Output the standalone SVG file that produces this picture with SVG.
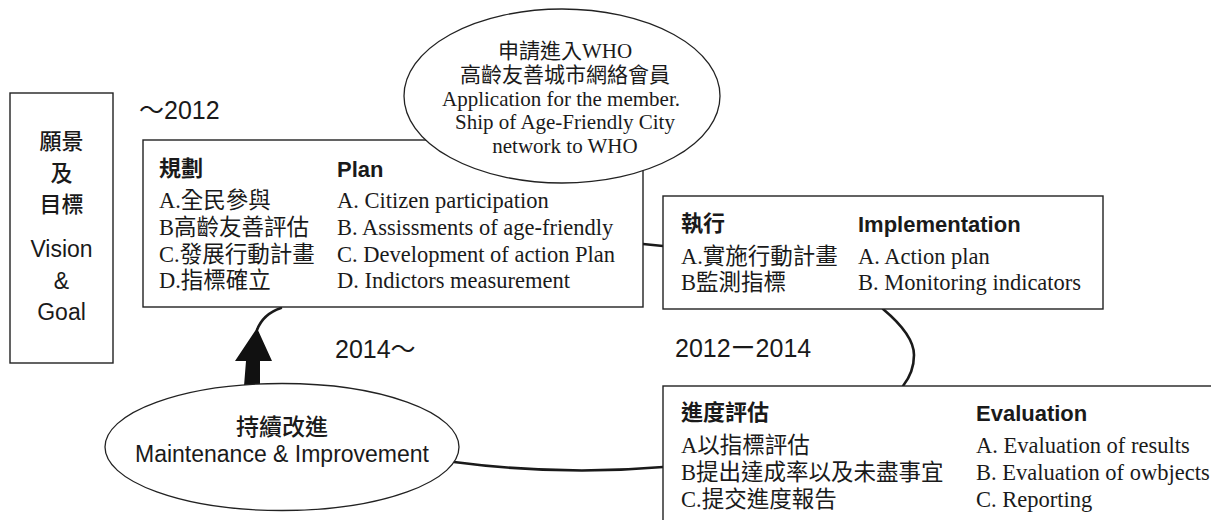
<svg xmlns="http://www.w3.org/2000/svg" width="1211" height="520" viewBox="0 0 1211 520">
<style>
.box{fill:#fff;stroke:#222;stroke-width:1.4}
.ell{fill:#fff;stroke:#222;stroke-width:1.3}
.con{fill:none;stroke:#1a1a1a;stroke-width:2.6;stroke-linecap:round}
.sans{font-family:"Liberation Sans","Noto Sans CJK TC",sans-serif;fill:#1a1a1a}
.cjk{font-family:"Noto Sans CJK TC","Liberation Sans",sans-serif;fill:#1a1a1a}
.ser{font-family:"Liberation Serif","Noto Sans CJK TC",serif;fill:#1a1a1a;font-size:22.5px}
.ov{font-size:21px}
.hd{font-weight:bold;font-size:22px}
.big{font-size:23px}
.lb{font-size:22px;font-weight:500}
.yr{font-family:"Liberation Sans","Noto Sans CJK TC",sans-serif;font-size:25px;fill:#1a1a1a}
</style>

<g id="connectors">
  <path class="con" d="M643,244 L663,246"/>
  <path class="con" d="M883,309 Q914,335 914,355 Q914,372 903,386"/>
  <path class="con" d="M663,467 Q560,476 454,462"/>
  <path class="con" d="M257,330 Q263,314 281,308" stroke-width="2.2"/>
  <polygon points="244,386 246,361 235,361 257,328 272,361 260,361 260,386" fill="#111"/>
</g>

<g id="vision">
  <rect class="box" x="10" y="93" width="103" height="270"/>
  <text class="cjk lb" x="61.5" y="149" text-anchor="middle">願景</text>
  <text class="cjk lb" x="61.5" y="181" text-anchor="middle">及</text>
  <text class="cjk lb" x="61.5" y="212" text-anchor="middle">目標</text>
  <text class="sans big" x="61.5" y="257" text-anchor="middle">Vision</text>
  <text class="sans big" x="61.5" y="289" text-anchor="middle">&amp;</text>
  <text class="sans big" x="61.5" y="320" text-anchor="middle">Goal</text>
</g>

<g id="label-2012">
  <text class="yr" x="139" y="119">～2012</text>
</g>

<g id="plan">
  <rect class="box" x="143" y="140" width="500" height="167"/>
  <text class="cjk hd" x="159" y="176">規劃</text>
  <text class="sans hd" x="337" y="177">Plan</text>
  <text class="ser" x="159" y="208">A.全民參與</text>
  <text class="ser" x="159" y="235">B高齡友善評估</text>
  <text class="ser" x="159" y="262">C.發展行動計畫</text>
  <text class="ser" x="159" y="288">D.指標確立</text>
  <text class="ser" x="337" y="208">A. Citizen participation</text>
  <text class="ser" x="337" y="235">B. Assissments of age-friendly</text>
  <text class="ser" x="337" y="262">C. Development of action Plan</text>
  <text class="ser" x="337" y="288">D. Indictors measurement</text>
</g>

<g id="who">
  <ellipse class="ell" cx="562" cy="96" rx="158" ry="87"/>
  <text class="ser ov" x="565" y="58" text-anchor="middle">申請進入WHO</text>
  <text class="ser ov" x="565" y="82" text-anchor="middle">高齡友善城市網絡會員</text>
  <text class="ser ov" x="561" y="106" text-anchor="middle">Application for the member.</text>
  <text class="ser ov" x="565" y="129" text-anchor="middle">Ship of Age-Friendly City</text>
  <text class="ser ov" x="565" y="153" text-anchor="middle">network to WHO</text>
</g>

<g id="implementation">
  <rect class="box" x="663" y="196" width="440" height="113"/>
  <text class="cjk hd" x="681" y="231">執行</text>
  <text class="sans hd" x="858" y="232">Implementation</text>
  <text class="ser" x="681" y="264">A.實施行動計畫</text>
  <text class="ser" x="858" y="264">A. Action plan</text>
  <text class="ser" x="681" y="290">B監測指標</text>
  <text class="ser" x="858" y="290">B. Monitoring indicators</text>
</g>

<g id="label-2012-2014">
  <text class="yr" x="675" y="357">2012ー2014</text>
</g>

<g id="label-2014">
  <text class="yr" x="335" y="358">2014～</text>
</g>

<g id="evaluation">
  <rect class="box" x="663" y="386" width="600" height="160"/>
  <text class="cjk hd" x="681" y="420">進度評估</text>
  <text class="sans hd" x="976" y="421">Evaluation</text>
  <text class="ser" x="681" y="453">A以指標評估</text>
  <text class="ser" x="681" y="480">B提出達成率以及未盡事宜</text>
  <text class="ser" x="681" y="507">C.提交進度報告</text>
  <text class="ser" x="976" y="453">A. Evaluation of results</text>
  <text class="ser" x="976" y="480">B. Evaluation of owbjects</text>
  <text class="ser" x="976" y="507">C. Reporting</text>
</g>

<g id="maintenance">
  <ellipse class="ell" cx="282" cy="447" rx="177" ry="63.5"/>
  <text class="cjk big" x="282" y="435" text-anchor="middle" font-weight="500">持續改進</text>
  <text class="sans big" x="282" y="462" text-anchor="middle">Maintenance &amp; Improvement</text>
</g>
</svg>
